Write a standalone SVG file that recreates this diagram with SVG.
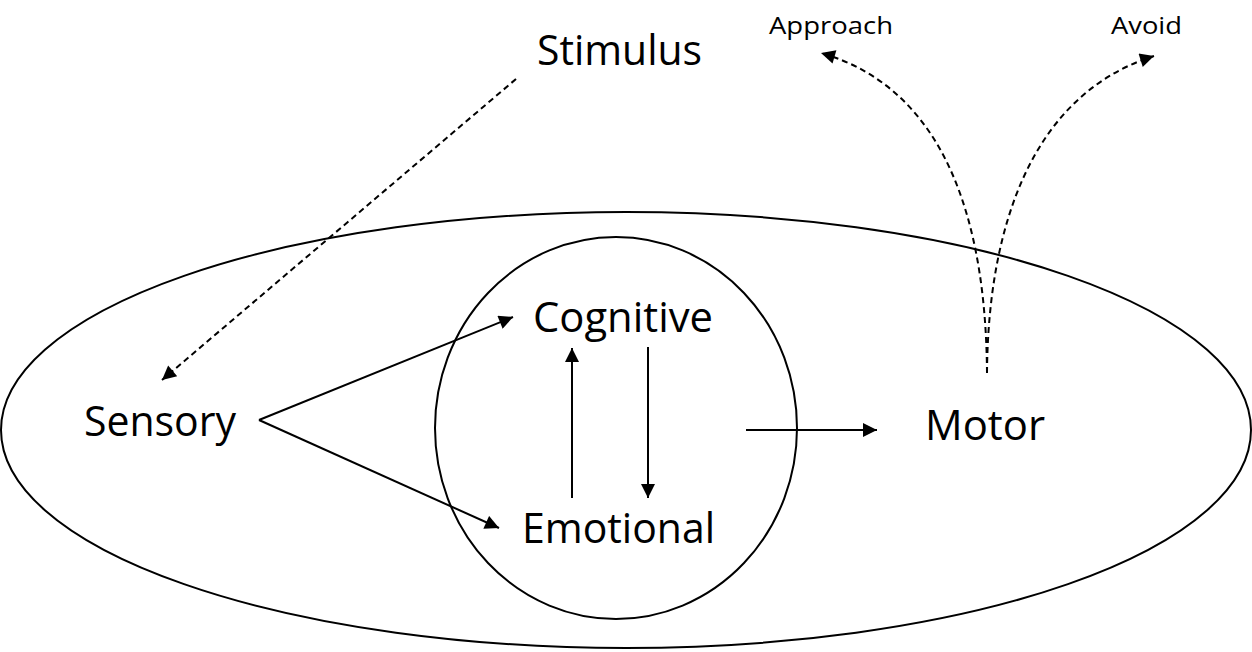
<svg xmlns="http://www.w3.org/2000/svg" width="1252" height="652" viewBox="0 0 1252 652">
<style>
.big{font-family:"Open Sans","Noto Sans",sans-serif;font-size:42px;fill:#000}
.small{font-family:"Open Sans","Noto Sans",sans-serif;font-size:23px;fill:#000}
.ln{fill:none;stroke:#000;stroke-width:2}
.dash{fill:none;stroke:#000;stroke-width:2;stroke-dasharray:6,4}
.shape{fill:none;stroke:#000;stroke-width:2}
</style>
<defs>
<marker id="ah" viewBox="0 0 10 10" refX="10" refY="5" markerWidth="8" markerHeight="7" markerUnits="strokeWidth" orient="auto">
<path d="M0,0 L10,5 L0,10 z" fill="#000"/>
</marker>
</defs>
<rect width="1252" height="652" fill="#fff"/>
<g id="outer"><ellipse class="shape" cx="626" cy="430" rx="625" ry="218"/></g>
<g id="inner"><ellipse class="shape" cx="616" cy="428" rx="181" ry="191"/></g>
<g id="stimulus"><text class="big" x="537" y="65" textLength="165" lengthAdjust="spacingAndGlyphs">Stimulus</text></g>
<g id="sensory"><text class="big" x="84" y="436" textLength="152" lengthAdjust="spacingAndGlyphs">Sensory</text></g>
<g id="cognitive"><text class="big" x="533" y="332" textLength="180" lengthAdjust="spacingAndGlyphs">Cognitive</text></g>
<g id="emotional"><text class="big" x="522" y="543" textLength="193" lengthAdjust="spacingAndGlyphs">Emotional</text></g>
<g id="motor"><text class="big" x="925" y="440" textLength="120" lengthAdjust="spacingAndGlyphs">Motor</text></g>
<g id="approach"><text class="small" x="769" y="34" textLength="124" lengthAdjust="spacingAndGlyphs">Approach</text></g>
<g id="avoid"><text class="small" x="1111" y="34" textLength="71" lengthAdjust="spacingAndGlyphs">Avoid</text></g>
<g id="connectors">
<path class="dash" d="M516,79 L162,380" marker-end="url(#ah)"/>
<path class="ln" d="M259,420 L513,317" marker-end="url(#ah)"/>
<path class="ln" d="M259,420 L499,528" marker-end="url(#ah)"/>
<path class="ln" d="M572,498 L572,348" marker-end="url(#ah)"/>
<path class="ln" d="M648,347 L648,498" marker-end="url(#ah)"/>
<path class="ln" d="M746,430 L877,430" marker-end="url(#ah)"/>
<path class="dash" d="M987,373 C986,230 950,90 821,53" marker-end="url(#ah)"/>
<path class="dash" d="M987,373 C988,230 1030,95 1154,56" marker-end="url(#ah)"/>
</g>
</svg>
